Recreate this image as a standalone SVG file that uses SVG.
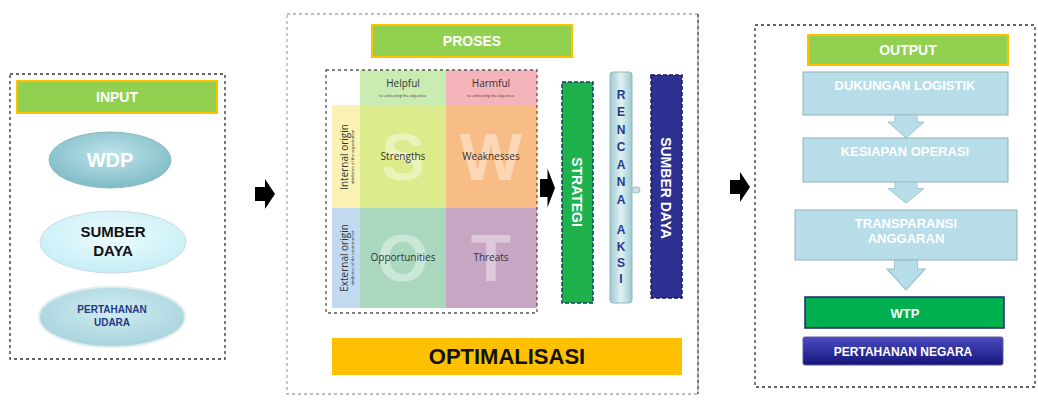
<svg xmlns="http://www.w3.org/2000/svg" width="1038" height="403" viewBox="0 0 1038 403">
<style>
.frame{fill:#fff;stroke:#333;stroke-width:1.3;stroke-dasharray:3 3}
.frameL{fill:#fff;stroke:#aaa;stroke-width:1.3;stroke-dasharray:3 3}
.hdr{fill:#92D050;stroke:#FFC000;stroke-width:2}
.hdrT{font-family:"Liberation Sans",Arial,sans-serif;font-weight:bold;font-size:14px;fill:#fff;text-anchor:middle}
.lb{fill:#b7dde8;stroke:#8fb0b8;stroke-width:1}
.lbT{font-family:"Liberation Sans",Arial,sans-serif;font-weight:bold;font-size:13px;fill:#fff;text-anchor:middle}
.sw{font-family:"Open Sans","DejaVu Sans",sans-serif;font-size:10px;fill:#333;text-anchor:middle}
.sws{font-family:"Open Sans","DejaVu Sans",sans-serif;font-size:4px;fill:#333;text-anchor:middle}
.big{font-family:"Liberation Sans",Arial,sans-serif;font-weight:bold;font-size:66px;fill:#fff;fill-opacity:0.4;text-anchor:middle}
.bar{font-family:"Liberation Sans",Arial,sans-serif;font-weight:bold;font-size:14px;fill:#fff;text-anchor:middle}
.rk{font-family:"Liberation Sans",Arial,sans-serif;font-weight:bold;font-size:12px;fill:#1f3a8a;text-anchor:middle}
</style>
<defs>
<radialGradient id="gWdp" cx="50%" cy="40%" r="60%"><stop offset="0" stop-color="#bfe3ea"/><stop offset="1" stop-color="#7fbcc7"/></radialGradient>
<radialGradient id="gSd" cx="50%" cy="40%" r="60%"><stop offset="0" stop-color="#eefcff"/><stop offset="1" stop-color="#c6eef5"/></radialGradient>
<radialGradient id="gPu" cx="50%" cy="40%" r="60%"><stop offset="0" stop-color="#d2ecf1"/><stop offset="1" stop-color="#a7d3dc"/></radialGradient>
<linearGradient id="gRa" x1="0" x2="1" y1="0" y2="0"><stop offset="0" stop-color="#9fc9cf"/><stop offset="0.5" stop-color="#dff2f4"/><stop offset="1" stop-color="#9fc9cf"/></linearGradient>
<linearGradient id="gPn" x1="0" x2="0" y1="0" y2="1"><stop offset="0" stop-color="#4a4ac0"/><stop offset="1" stop-color="#16167a"/></linearGradient>
<path id="bigArrow" d="M0,-7 L10,-7 L10,-15 L20,0 L10,15 L10,7 L0,7 Z" fill="#000"/>
<path id="downArr" d="M-11,0 L11,0 L11,7 L18,7 L0,23 L-18,7 L-11,7 Z" fill="#b7dde8" stroke="#9dc3cb" stroke-width="1"/>
</defs>
<rect width="1038" height="403" fill="#fff"/>

<g id="input">
<rect class="frame" x="10" y="74" width="215" height="285"/>
<rect class="hdr" x="17" y="81" width="200" height="32"/>
<text class="hdrT" x="117" y="102">INPUT</text>
</g>
<g id="wdp">
<ellipse cx="110" cy="160" rx="61" ry="28" fill="url(#gWdp)" stroke="#8ab8c0" stroke-width="1"/>
<text x="110" y="167" font-family="Liberation Sans,Arial,sans-serif" font-weight="bold" font-size="20" fill="#fff" text-anchor="middle">WDP</text>
</g>
<g id="sumber-daya-in">
<ellipse cx="113" cy="242" rx="73" ry="31" fill="url(#gSd)" stroke="#c8dde0" stroke-width="1"/>
<text x="113" y="237" font-family="Liberation Sans,Arial,sans-serif" font-weight="bold" font-size="15" fill="#111" text-anchor="middle">SUMBER</text>
<text x="113" y="256" font-family="Liberation Sans,Arial,sans-serif" font-weight="bold" font-size="15" fill="#111" text-anchor="middle">DAYA</text>
</g>
<g id="pertahanan-udara">
<ellipse cx="112" cy="317" rx="73" ry="30" fill="url(#gPu)" stroke="#e0ecee" stroke-width="2"/>
<text x="112" y="313" font-family="Liberation Sans,Arial,sans-serif" font-weight="bold" font-size="10" fill="#1f3a8a" text-anchor="middle">PERTAHANAN</text>
<text x="112" y="326" font-family="Liberation Sans,Arial,sans-serif" font-weight="bold" font-size="10" fill="#1f3a8a" text-anchor="middle">UDARA</text>
</g>

<g id="proses">
<rect class="frameL" x="287" y="14" width="411" height="380"/>
<line x1="698" y1="14" x2="698" y2="394" stroke="#333" stroke-width="1.3" stroke-dasharray="3 3"/>
<rect class="hdr" x="372" y="25" width="200" height="32"/>
<text class="hdrT" x="472" y="46">PROSES</text>
</g>

<g id="swot">
<rect x="360" y="70" width="86" height="35" fill="#c9ecb2"/>
<rect x="446" y="70" width="91" height="35" fill="#f5b3ba"/>
<rect x="332" y="105" width="28" height="103" fill="#faf2b2"/>
<rect x="332" y="208" width="28" height="100" fill="#c3d9f0"/>
<rect x="360" y="105" width="86" height="103" fill="#dceb8c"/>
<rect x="446" y="105" width="91" height="103" fill="#f8bd86"/>
<rect x="360" y="208" width="86" height="100" fill="#a9d8bf"/>
<rect x="446" y="208" width="91" height="100" fill="#c7a6c3"/>
<text class="big" x="403" y="180">S</text>
<text class="big" x="491" y="180">W</text>
<text class="big" x="403" y="281">O</text>
<text class="big" x="491" y="281">T</text>
<text class="sw" x="403" y="87">Helpful</text>
<text class="sws" x="403" y="97">to achieving the objective</text>
<text class="sw" x="491" y="87">Harmful</text>
<text class="sws" x="491" y="97">to achieving the objective</text>
<text class="sw" x="403" y="160">Strengths</text>
<text class="sw" x="491" y="160">Weaknesses</text>
<text class="sw" x="403" y="261">Opportunities</text>
<text class="sw" x="491" y="261">Threats</text>
<text class="sw" transform="translate(348,157) rotate(-90)">Internal origin</text>
<text class="sws" transform="translate(354,157) rotate(-90)">attributes of the organization</text>
<text class="sw" transform="translate(348,258) rotate(-90)">External origin</text>
<text class="sws" transform="translate(354,258) rotate(-90)">attributes of the environment</text>
<rect x="326" y="70" width="211" height="243" fill="none" stroke="#555" stroke-width="1.3" stroke-dasharray="3 3"/>
</g>

<g id="strategi">
<rect x="562" y="82" width="31" height="221" fill="#1fb24c" stroke="#1f3a6a" stroke-width="1.5" stroke-dasharray="4 2"/>
<text class="bar" transform="translate(577,192) rotate(90)" dy="5">STRATEGI</text>
</g>
<g id="rencana-aksi">
<rect x="610" y="72" width="22" height="231" rx="3" fill="url(#gRa)" stroke="#8fb5ba" stroke-width="1"/>
<rect x="632" y="187" width="8" height="6" rx="3" fill="#c9dfe2" stroke="#8fb5ba" stroke-width="0.8"/>
<text class="rk" x="621" y="99">R</text>
<text class="rk" x="621" y="116">E</text>
<text class="rk" x="621" y="134">N</text>
<text class="rk" x="621" y="151">C</text>
<text class="rk" x="621" y="169">A</text>
<text class="rk" x="621" y="186">N</text>
<text class="rk" x="621" y="204">A</text>
<text class="rk" x="621" y="234">A</text>
<text class="rk" x="621" y="251">K</text>
<text class="rk" x="621" y="267">S</text>
<text class="rk" x="621" y="283">I</text>
</g>
<g id="sumber-daya-proc">
<rect x="651" y="75" width="31" height="223" fill="#2e3192" stroke="#1a1a60" stroke-width="1.5" stroke-dasharray="4 2"/>
<text class="bar" transform="translate(666,188) rotate(90)" dy="5">SUMBER DAYA</text>
</g>
<g id="optimalisasi">
<rect x="332" y="338" width="350" height="37" fill="#FFC000"/>
<text x="507" y="364" font-family="Liberation Sans,Arial,sans-serif" font-weight="bold" font-size="22" fill="#111" text-anchor="middle">OPTIMALISASI</text>
</g>

<g id="output">
<rect class="frame" x="755" y="25" width="280" height="362"/>
<rect class="hdr" x="808" y="35" width="200" height="30"/>
<text class="hdrT" x="908" y="55">OUTPUT</text>
</g>
<g id="dukungan">
<rect class="lb" x="803" y="72" width="205" height="43"/>
<text class="lbT" x="905" y="90">DUKUNGAN LOGISTIK</text>
</g>
<g id="kesiapan">
<rect class="lb" x="803" y="138" width="205" height="44"/>
<text class="lbT" x="905" y="156">KESIAPAN OPERASI</text>
</g>
<g id="transparansi">
<rect class="lb" x="795" y="210" width="222" height="50"/>
<text class="lbT" x="906" y="228">TRANSPARANSI</text>
<text class="lbT" x="906" y="243">ANGGARAN</text>
</g>
<g id="wtp">
<rect x="805" y="297" width="199" height="31" fill="#00b050" stroke="#1a2a6a" stroke-width="1.5"/>
<text class="lbT" x="905" y="318">WTP</text>
</g>
<g id="pertahanan-negara">
<rect x="803" y="337" width="200" height="28" rx="2" fill="url(#gPn)" stroke="#5a5a9a" stroke-width="1"/>
<text x="903" y="356" font-family="Liberation Sans,Arial,sans-serif" font-weight="bold" font-size="12" fill="#fff" text-anchor="middle">PERTAHANAN NEGARA</text>
</g>

<g id="connectors">
<use href="#bigArrow" x="255" y="194"/>
<use href="#bigArrow" transform="translate(540,188) scale(0.75,1.3)"/>
<use href="#bigArrow" x="730" y="187"/>
<use href="#downArr" x="906" y="115"/>
<use href="#downArr" transform="translate(906,182) scale(1,0.92)"/>
<use href="#downArr" transform="translate(906,260) scale(1.05,1.3)"/>
</g>
</svg>
